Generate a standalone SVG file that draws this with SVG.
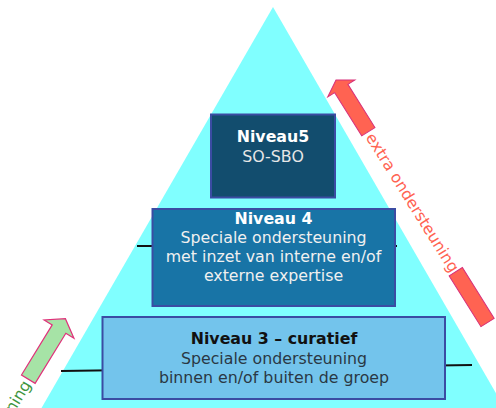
<svg xmlns="http://www.w3.org/2000/svg" width="496" height="408" viewBox="0 0 496 408">
<style>
text{font-family:"DejaVu Sans","Verdana",sans-serif;font-size:15.8px;text-anchor:middle}
.b{font-weight:bold}
.box{stroke:#3b4ca3;stroke-width:2}
.ln{stroke:#111;stroke-width:2;fill:none}
.red{fill:#ff6352;stroke:#d8307a;stroke-width:1}
.grn{fill:#a6e3a6;stroke:#e0307a;stroke-width:1.2}
</style>
<rect width="496" height="408" fill="#ffffff"/>
<polygon id="pyramid" points="273,7 41.5,408 504.5,408" fill="#80ffff"/>
<g id="connectors">
<line class="ln" x1="137" y1="246" x2="397" y2="246"/>
<line class="ln" x1="61" y1="371" x2="472" y2="365"/>
</g>
<g id="niveau5">
<rect class="box" x="211" y="114.5" width="124" height="83" fill="#124d6e"/>
<text class="b" x="273" y="142.3" fill="#ffffff">Niveau5</text>
<text x="273" y="161.7" fill="#e6e6e6">SO-SBO</text>
</g>
<g id="niveau4">
<rect class="box" x="152.5" y="209" width="242.5" height="97" fill="#1874a6"/>
<text class="b" x="273.5" y="224" fill="#ffffff">Niveau 4</text>
<text x="273.5" y="243" fill="#f0f0f0">Speciale ondersteuning</text>
<text x="273.5" y="262" fill="#f0f0f0">met inzet van interne en/of</text>
<text x="273.5" y="281" fill="#f0f0f0">externe expertise</text>
</g>
<g id="niveau3">
<rect class="box" x="102.5" y="317" width="342.5" height="82" fill="#73c4ec"/>
<text class="b" x="274" y="344.3" fill="#111111">Niveau 3 – curatief</text>
<text x="274" y="363.5" fill="#2a3844">Speciale ondersteuning</text>
<text x="274" y="382.5" fill="#2a3844">binnen en/of buiten de groep</text>
</g>
<g id="extra-ondersteuning" transform="translate(336,80) rotate(58)">
<polygon class="red" points="0,0 10,16 10,7.8 61,7.8 61,-7.8 10,-7.8 10,-16"/>
<rect class="red" x="226" y="-7.8" width="60" height="15.6"/>
<text x="144.5" y="5.5" fill="#ff6352">extra ondersteuning</text>
</g>
<g id="basis-ondersteuning" transform="translate(28.3,379.2) rotate(-58.5)">
<polygon class="grn" points="0,-8 58.8,-8 58.8,-17.5 71,0 58.8,17.5 58.8,8 0,8"/>
<text x="-3" y="5.5" fill="#3f963f" style="text-anchor:end">ning</text>
</g>
</svg>
